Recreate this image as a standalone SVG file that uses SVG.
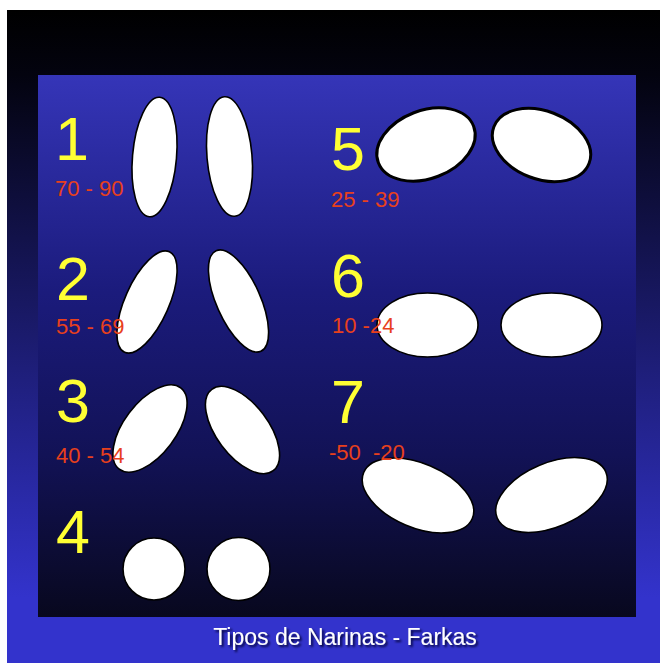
<svg xmlns="http://www.w3.org/2000/svg" width="660" height="663" viewBox="0 0 660 663">
<defs>
<linearGradient id="outer" x1="0" y1="10" x2="0" y2="663" gradientUnits="userSpaceOnUse">
<stop offset="0" stop-color="#000000"/>
<stop offset="0.1" stop-color="#03030f"/>
<stop offset="0.9" stop-color="#3333cc"/>
<stop offset="1" stop-color="#3333cc"/>
</linearGradient>
<linearGradient id="inner" x1="0" y1="75" x2="0" y2="617" gradientUnits="userSpaceOnUse">
<stop offset="0" stop-color="#3535b8"/>
<stop offset="0.4" stop-color="#1b1b7c"/>
<stop offset="0.7" stop-color="#121256"/>
<stop offset="1" stop-color="#08081e"/>
</linearGradient>
<filter id="shadow" x="-10%" y="-30%" width="120%" height="160%">
<feDropShadow dx="2" dy="2" stdDeviation="1" flood-color="#000033" flood-opacity="0.9"/>
</filter>
</defs>
<style>
.nos{fill:#ffffff;stroke:#000000;stroke-width:1.6}
.thick{stroke-width:3}
.num{font-family:"Liberation Sans",Arial,sans-serif;font-size:61px;fill:#ffff33}
.rng{font-family:"Liberation Sans",Arial,sans-serif;font-size:22px;fill:#e8401c}
.title{font-family:"Liberation Sans",Arial,sans-serif;font-size:23px;fill:#ffffff}
</style>
<rect x="0" y="0" width="660" height="663" fill="#ffffff"/>
<rect x="7" y="10" width="653" height="653" fill="url(#outer)"/>
<rect x="38" y="75" width="598" height="542" fill="url(#inner)"/>

<g id="type1">
<text class="num" x="55" y="160">1</text>
<ellipse class="nos" cx="0" cy="0" rx="22" ry="60" transform="translate(154.5,157) rotate(5)"/>
<ellipse class="nos" cx="0" cy="0" rx="22.5" ry="60" transform="translate(229.5,156.5) rotate(-5)"/>
<text class="rng" x="55" y="196">70 - 90</text>
</g>

<g id="type2">
<text class="num" x="56" y="300">2</text>
<ellipse class="nos" cx="0" cy="0" rx="22" ry="55" transform="translate(147,302) rotate(24)"/>
<ellipse class="nos" cx="0" cy="0" rx="22" ry="55" transform="translate(238.5,301) rotate(-24)"/>
<text class="rng" x="56" y="334">55 - 69</text>
</g>

<g id="type3">
<text class="num" x="56" y="422">3</text>
<ellipse class="nos" cx="0" cy="0" rx="26" ry="51" transform="translate(150,428.5) rotate(37)"/>
<ellipse class="nos" cx="0" cy="0" rx="26" ry="51" transform="translate(242.5,430) rotate(-37)"/>
<text class="rng" x="56" y="463">40 - 54</text>
</g>

<g id="type4">
<text class="num" x="56" y="553">4</text>
<circle class="nos" cx="154" cy="569" r="31"/>
<circle class="nos" cx="238.5" cy="569" r="31.5"/>
</g>

<g id="type5">
<text class="num" x="331" y="170">5</text>
<ellipse class="nos thick" cx="0" cy="0" rx="51" ry="34" transform="translate(426,144.5) rotate(-21)"/>
<ellipse class="nos thick" cx="0" cy="0" rx="51" ry="34" transform="translate(541.5,145) rotate(21)"/>
<text class="rng" x="331" y="207">25 - 39</text>
</g>

<g id="type6">
<text class="num" x="331" y="297">6</text>
<ellipse class="nos" cx="427.5" cy="325" rx="50.5" ry="32"/>
<ellipse class="nos" cx="551.5" cy="325" rx="50.5" ry="32"/>
<text class="rng" x="332" y="333">10 -24</text>
</g>

<g id="type7">
<text class="num" x="331" y="423">7</text>
<ellipse class="nos" cx="0" cy="0" rx="59" ry="32" transform="translate(418,495.5) rotate(23)"/>
<ellipse class="nos" cx="0" cy="0" rx="59" ry="32" transform="translate(551.5,495) rotate(-23)"/>
<text class="rng" x="329" y="460" xml:space="preserve">-50  -20</text>
</g>

<g id="title">
<text class="title" x="345" y="645" text-anchor="middle" filter="url(#shadow)">Tipos de Narinas - Farkas</text>
</g>
</svg>
